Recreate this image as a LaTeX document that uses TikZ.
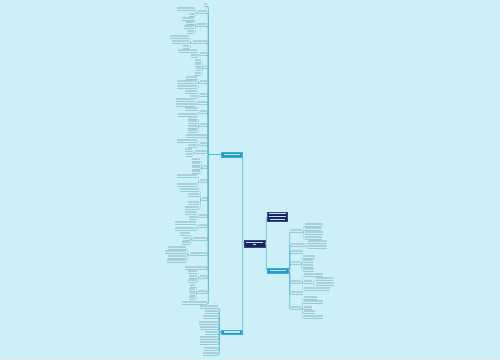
\documentclass[tikz,border=0pt]{standalone}
\usepackage{tikz}
\usetikzlibrary{calc}
\usepackage{xcolor}

\definecolor{bgcol}{RGB}{205,240,248}
\definecolor{linkcol}{RGB}{92,186,206}
\definecolor{txtcol}{RGB}{176,206,215}
\definecolor{boxtxt}{RGB}{200,225,240}
\definecolor{navybox}{RGB}{22,36,98}
\definecolor{cyanbox}{RGB}{28,158,200}

\tikzset{
  uline/.style={draw=linkcol!70, line width=0.3pt},
  leaf/.style={inner sep=0pt, minimum height=3.4pt, anchor=south,
    path picture={\fill[txtcol] ([yshift=1.1pt]path picture bounding box.south west)
      rectangle ([yshift=-0.8pt]path picture bounding box.north east);},
    append after command={(\tikzlastnode.south west) edge[uline] (\tikzlastnode.south east)}},
  link/.style={draw=linkcol!85, line width=0.4pt, rounded corners=0.8pt},
  mainlink/.style={draw=linkcol, line width=0.75pt, rounded corners=1pt},
  bigbox/.style={inner sep=0pt, draw=#1!85!white, fill=#1, line width=0.3pt,
    align=center, font=\fontsize{2}{2.6}\selectfont}
}

% leaf: name, x-left, x-right, y of underline
\newcommand\lf[4]{\node[leaf, minimum width={(#3)-(#2)}] (#1) at ({((#2)+(#3))/2},#4) {};}
% box: name, x1, x2, y1, y2, colour, bars
\newcommand\bx[7]{\node[bigbox=#6, minimum width={(#3)-(#2)}, minimum height={(#5)-(#4)}]
  (#1) at ({((#2)+(#3))/2},{((#4)+(#5))/2}) {#7};}
\newcommand\tb[1]{\textcolor{boxtxt}{\rule{#1pt}{1.1pt}}}

\begin{document}
\begin{tikzpicture}[x=1pt,y=-1pt]

  \fill[bgcol] (0,0) rectangle (500,360);
  \useasboundingbox (0,0) rectangle (500,360);

  % main boxes
  \bx{topic}{244}{265}{240}{247}{navybox}{\tb{17}\\\tb{3}}
  \bx{ra}{267}{287}{212}{221}{navybox}{\tb{17}\\\tb{17}\\\tb{15}}
  \bx{la}{221}{242}{152}{157}{cyanbox}{\tb{16}}
  \bx{lb}{221}{242}{330}{334}{cyanbox}{\tb{16}}
  \bx{rb}{267}{288}{268}{273}{cyanbox}{\tb{16}}

  % left column
  \lf{a1}{204}{207}{6}
  \lf{a2}{198}{207}{13} \lf{a2a}{177}{195}{10} \lf{a2b}{189}{195}{16}
  \lf{a3}{197}{207}{26} \lf{a3a}{182}{194}{20} \lf{a3b}{186}{194}{24} \lf{a3c}{184}{194}{28} \lf{a3d}{187}{194}{33}
  \lf{a4}{193}{207}{43} \lf{a4a}{170}{189}{38} \lf{a4b}{172}{189}{43} \lf{a4c}{183}{189}{48}
  \lf{a5}{200}{207}{55} \lf{a5a}{178}{197}{52} \lf{a5b}{191}{197}{57}
  \lf{a6}{204}{207}{68} \lf{a6a}{195}{201}{62} \lf{a6b}{195}{201}{66} \lf{a6c}{196}{201}{70} \lf{a6d}{195}{201}{75}
  \lf{a7}{200}{207}{83} \lf{a7a}{186}{197}{79} \lf{a7b}{177}{197}{83} \lf{a7c}{177}{197}{88}
  \lf{a8}{200}{207}{96} \lf{a8a}{185}{197}{93} \lf{a8b}{190}{197}{98}
  \lf{a9}{197}{207}{104} \lf{a9a}{176}{194}{101} \lf{a9b}{176}{194}{106}
  \lf{a10}{200}{207}{113} \lf{a10a}{185}{197}{110} \lf{a10b}{178}{197}{116}
  \lf{a11}{200}{207}{126} \lf{a11a}{188}{197}{119} \lf{a11b}{188}{197}{123} \lf{a11c}{188}{197}{128} \lf{a11d}{188}{197}{132}
  \lf{a12}{186}{207}{137}
  \lf{a13}{200}{207}{145} \lf{a13a}{177}{197}{142} \lf{a13b}{188}{197}{147}
  \lf{a14}{195}{207}{153} \lf{a14a}{185}{192}{151} \lf{a14b}{186}{192}{156}
  \lf{a15}{203}{207}{168} \lf{a15a}{192}{200}{161} \lf{a15b}{192}{200}{165} \lf{a15c}{192}{200}{169} \lf{a15d}{192}{200}{173}
  \lf{a16}{200}{207}{182} \lf{a16a}{177}{197}{177} \lf{a16b}{177}{197}{186}
  \lf{a17}{202}{207}{200} \lf{a17a}{180}{199}{191} \lf{a17b}{188}{199}{196} \lf{a17c}{188}{199}{204} \lf{a17d}{185}{199}{209}
  \lf{a18}{199}{207}{217} \lf{a18a}{185}{196}{214} \lf{a18b}{189}{196}{219}
  \lf{a19}{199}{207}{227} \lf{a19a}{175}{196}{224} \lf{a19b}{175}{196}{230}
  \lf{a20}{193}{207}{240} \lf{a20a}{180}{190}{235} \lf{a20b}{183}{190}{240} \lf{a20c}{182}{190}{244}
  \lf{a21}{190}{207}{255} \lf{a21a}{168}{186}{249} \lf{a21b}{165}{186}{253} \lf{a21c}{168}{186}{258} \lf{a21d}{167}{186}{262}
  \lf{a22}{185}{207}{269}
  \lf{a23}{200}{207}{278} \lf{a23a}{188}{197}{273} \lf{a23b}{189}{197}{278} \lf{a23c}{188}{197}{282}
  \lf{a24}{198}{207}{293} \lf{a24a}{190}{195}{287} \lf{a24b}{189}{195}{291} \lf{a24c}{190}{195}{295} \lf{a24d}{189}{195}{299}
  \lf{a25}{182}{207}{304}

  \foreach \p/\cs in {a2/{a2a,a2b}, a3/{a3a,a3b,a3c,a3d}, a4/{a4a,a4b,a4c}, a5/{a5a,a5b},
      a6/{a6a,a6b,a6c,a6d}, a7/{a7a,a7b,a7c}, a8/{a8a,a8b}, a9/{a9a,a9b}, a10/{a10a,a10b},
      a11/{a11a,a11b,a11c,a11d}, a13/{a13a,a13b}, a14/{a14a,a14b}, a15/{a15a,a15b,a15c,a15d},
      a16/{a16a,a16b}, a17/{a17a,a17b,a17c,a17d}, a18/{a18a,a18b}, a19/{a19a,a19b},
      a20/{a20a,a20b,a20c}, a21/{a21a,a21b,a21c,a21d}, a23/{a23a,a23b,a23c}, a24/{a24a,a24b,a24c,a24d}}
    \foreach \c in \cs
      \draw[link] (\c.south east) -- ++(1,0) |- (\p.south west);

  \foreach \n in {1,...,25}
    \draw[mainlink] (a\n.south east) -- ++(1,0) |- (la.west);

  % bottom left group
  \lf{b1}{200}{218}{308} \lf{b2}{205}{218}{313} \lf{b3}{203}{218}{318} \lf{b4}{199}{218}{324}
  \lf{b5}{200}{218}{329} \lf{b6}{205}{218}{334} \lf{b7}{200}{218}{339} \lf{b8}{200}{218}{344}
  \lf{b9}{204}{218}{350} \lf{b10}{203}{218}{355}
  \foreach \n in {1,...,10}
    \draw[mainlink] (b\n.south east) -- ++(1,0) |- (lb.west);

  % right group
  \lf{d1}{291}{302}{232} \lf{d1a}{305}{323}{226} \lf{d1b}{305}{321}{230} \lf{d1c}{305}{323}{234} \lf{d1d}{305}{322}{239}
  \lf{d2}{291}{305}{246} \lf{d2a}{308}{327}{243} \lf{d2b}{308}{327}{248}
  \lf{d3}{291}{303}{253}
  \lf{d4}{291}{300}{264} \lf{d4a}{303}{315}{258} \lf{d4b}{303}{313}{262} \lf{d4c}{303}{313}{267} \lf{d4d}{303}{314}{271}
  \lf{d5}{291}{301}{283} \lf{d5a}{304}{323}{276} \lf{d5b}{304}{312}{283} \lf{d5c}{304}{330}{290}
  \lf{d5ba}{316}{333}{280} \lf{d5bb}{316}{334}{285}
  \lf{d6}{291}{303}{294}
  \lf{d7}{291}{301}{309} \lf{d7a}{304}{317}{299} \lf{d7b}{304}{323}{303} \lf{d7c}{304}{312}{309}
  \lf{d7d}{304}{315}{313} \lf{d7e}{304}{323}{318}

  \foreach \p/\cs in {d1/{d1a,d1b,d1c,d1d}, d2/{d2a,d2b}, d4/{d4a,d4b,d4c,d4d},
      d5/{d5a,d5b,d5c}, d5b/{d5ba,d5bb}, d7/{d7a,d7b,d7c,d7d,d7e}}
    \foreach \c in \cs
      \draw[link] (\p.south east) -- ++(1.5,0) |- (\c.south west);

  \foreach \n in {1,...,7}
    \draw[mainlink] (rb.east) -- ++(1.5,0) |- (d\n.south west);

  % topic connectors
  \draw[mainlink] (topic.west) -- ++(-1,0) |- (la.east);
  \draw[mainlink] (topic.west) -- ++(-1,0) |- (lb.east);
  \draw[mainlink] (topic.east) -- ++(1,0) |- (ra.west);
  \draw[mainlink] (topic.east) -- ++(1,0) |- (rb.west);

\end{tikzpicture}
\end{document}
